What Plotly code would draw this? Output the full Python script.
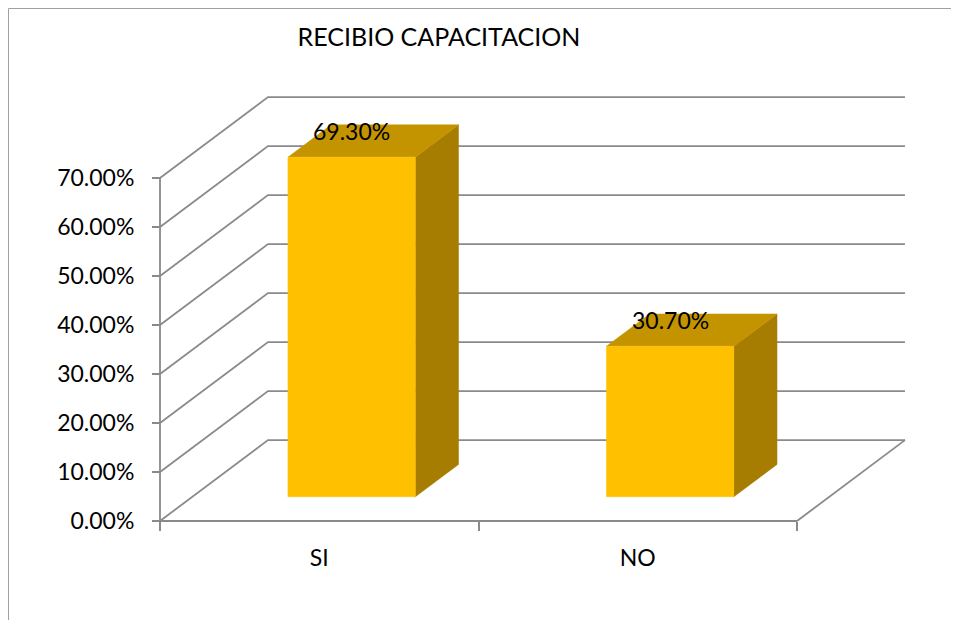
import plotly.graph_objects as go

# ---- data ----
categories = ["SI", "NO"]
values = [69.30, 30.70]          # percent
tick_values = [0, 10, 20, 30, 40, 50, 60, 70]
tick_labels = ["0.00%", "10.00%", "20.00%", "30.00%", "40.00%", "50.00%", "60.00%", "70.00%"]
value_labels = ["69.30%", "30.70%"]
title_text = "RECIBIO CAPACITACION"

# ---- styling / geometry ----
PAGE_W, PAGE_H = 959, 620
OFF = 8                       # browser default body margin
W, H = PAGE_W - OFF, PAGE_H - OFF
FONT = "Lato"
GRID = "#8A8A8A"
FRONT = "#FFC000"
TOP = "#C49400"
SIDE = "#A67D00"

# pseudo-3D depth vector in data units (x: category units, y: percent units)
DX, DY = 0.339, 16.5
BAR_HALF = 0.2           # half bar width (category units)
D0, D1 = 0.3, 0.7        # bar depth span (fraction of wall depth)

# axis ranges chosen so the category axis and value axis map to the canvas
X0_PX, X_UNIT = 160.0 - OFF, 318.5
Y0_PX, Y_UNIT = 521.0 - OFF, 4.9
xr = [-X0_PX / X_UNIT, (W - X0_PX) / X_UNIT]
yr = [-(H - Y0_PX) / Y_UNIT, Y0_PX / Y_UNIT]

ncat = len(categories)
ymax = tick_values[-1]


def P(x, y, d):
    return x + d * DX, y + d * DY


fig = go.Figure()


def line(pts, width=1.8):
    xs = [p[0] for p in pts]
    ys = [p[1] for p in pts]
    fig.add_trace(go.Scatter(x=xs, y=ys, mode="lines",
                             line=dict(color=GRID, width=width),
                             hoverinfo="skip", showlegend=False))


def poly(pts, color):
    xs = [p[0] for p in pts] + [pts[0][0]]
    ys = [p[1] for p in pts] + [pts[0][1]]
    fig.add_trace(go.Scatter(x=xs, y=ys, mode="lines", fill="toself",
                             fillcolor=color, line=dict(color=color, width=0.5),
                             hoverinfo="skip", showlegend=False))


# walls: left wall diagonals + back wall gridlines
for t in tick_values:
    line([P(0, t, 0), P(0, t, 1), P(ncat, t, 1)])
# floor right edge
line([P(ncat, 0, 0), P(ncat, 0, 1)])
# front axes
line([P(0, 0, 0), P(ncat, 0, 0)])
line([P(0, 0, 0), P(0, ymax, 0)])

# bars
for i, (cat, v) in enumerate(zip(categories, values)):
    c = i + 0.5
    xl, xr_ = c - BAR_HALF, c + BAR_HALF
    # side face
    poly([P(xr_, 0, D0), P(xr_, 0, D1), P(xr_, v, D1), P(xr_, v, D0)], SIDE)
    # top face
    poly([P(xl, v, D0), P(xr_, v, D0), P(xr_, v, D1), P(xl, v, D1)], TOP)
    # front face
    poly([P(xl, 0, D0), P(xr_, 0, D0), P(xr_, v, D0), P(xl, v, D0)], FRONT)
    lx, ly = P(c, v, D0)
    fig.add_annotation(x=lx, y=ly, text=value_labels[i], showarrow=False,
                       xanchor="center", yanchor="middle", yshift=26,
                       font=dict(family=FONT, size=23, color="black"))

# outer chart border
fig.add_shape(type="rect", xref="paper", yref="paper",
              x0=0.5 / W, x1=1.02, y0=-0.02, y1=(H - 0.5) / H,
              line=dict(color="#A0A0A0", width=1), layer="below")

fig.update_layout(
    width=W, height=H,
    margin=dict(l=0, r=0, t=0, b=0),
    paper_bgcolor="white", plot_bgcolor="white",
    showlegend=False,
    title=dict(text=title_text, x=(439 - OFF) / W, xanchor="center",
               y=(H - (37 - OFF)) / H, yanchor="middle",
               font=dict(family=FONT, size=25, color="black")),
    xaxis=dict(range=xr, domain=[0, 1], anchor="free",
               position=(H - Y0_PX) / H,
               tickmode="array", tickvals=[i + 0.5 for i in range(ncat)],
               ticktext=categories, ticks="", showgrid=False, zeroline=False,
               showline=False, ticklabelstandoff=21,
               tickfont=dict(family=FONT, size=23, color="black"),
               minor=dict(tickmode="array", tickvals=list(range(ncat + 1)),
                          ticks="outside", ticklen=9, tickwidth=1.8,
                          tickcolor=GRID, showgrid=False),
               fixedrange=True),
    yaxis=dict(range=yr, domain=[0, 1], anchor="free",
               position=X0_PX / W,
               tickmode="array", tickvals=tick_values, ticktext=tick_labels,
               ticks="outside", ticklen=8, tickwidth=1.8, tickcolor=GRID,
               showgrid=False, zeroline=False, showline=False,
               ticklabelstandoff=13,
               tickfont=dict(family=FONT, size=23, color="black"),
               fixedrange=True),
)

fig.write_html("out.html")
